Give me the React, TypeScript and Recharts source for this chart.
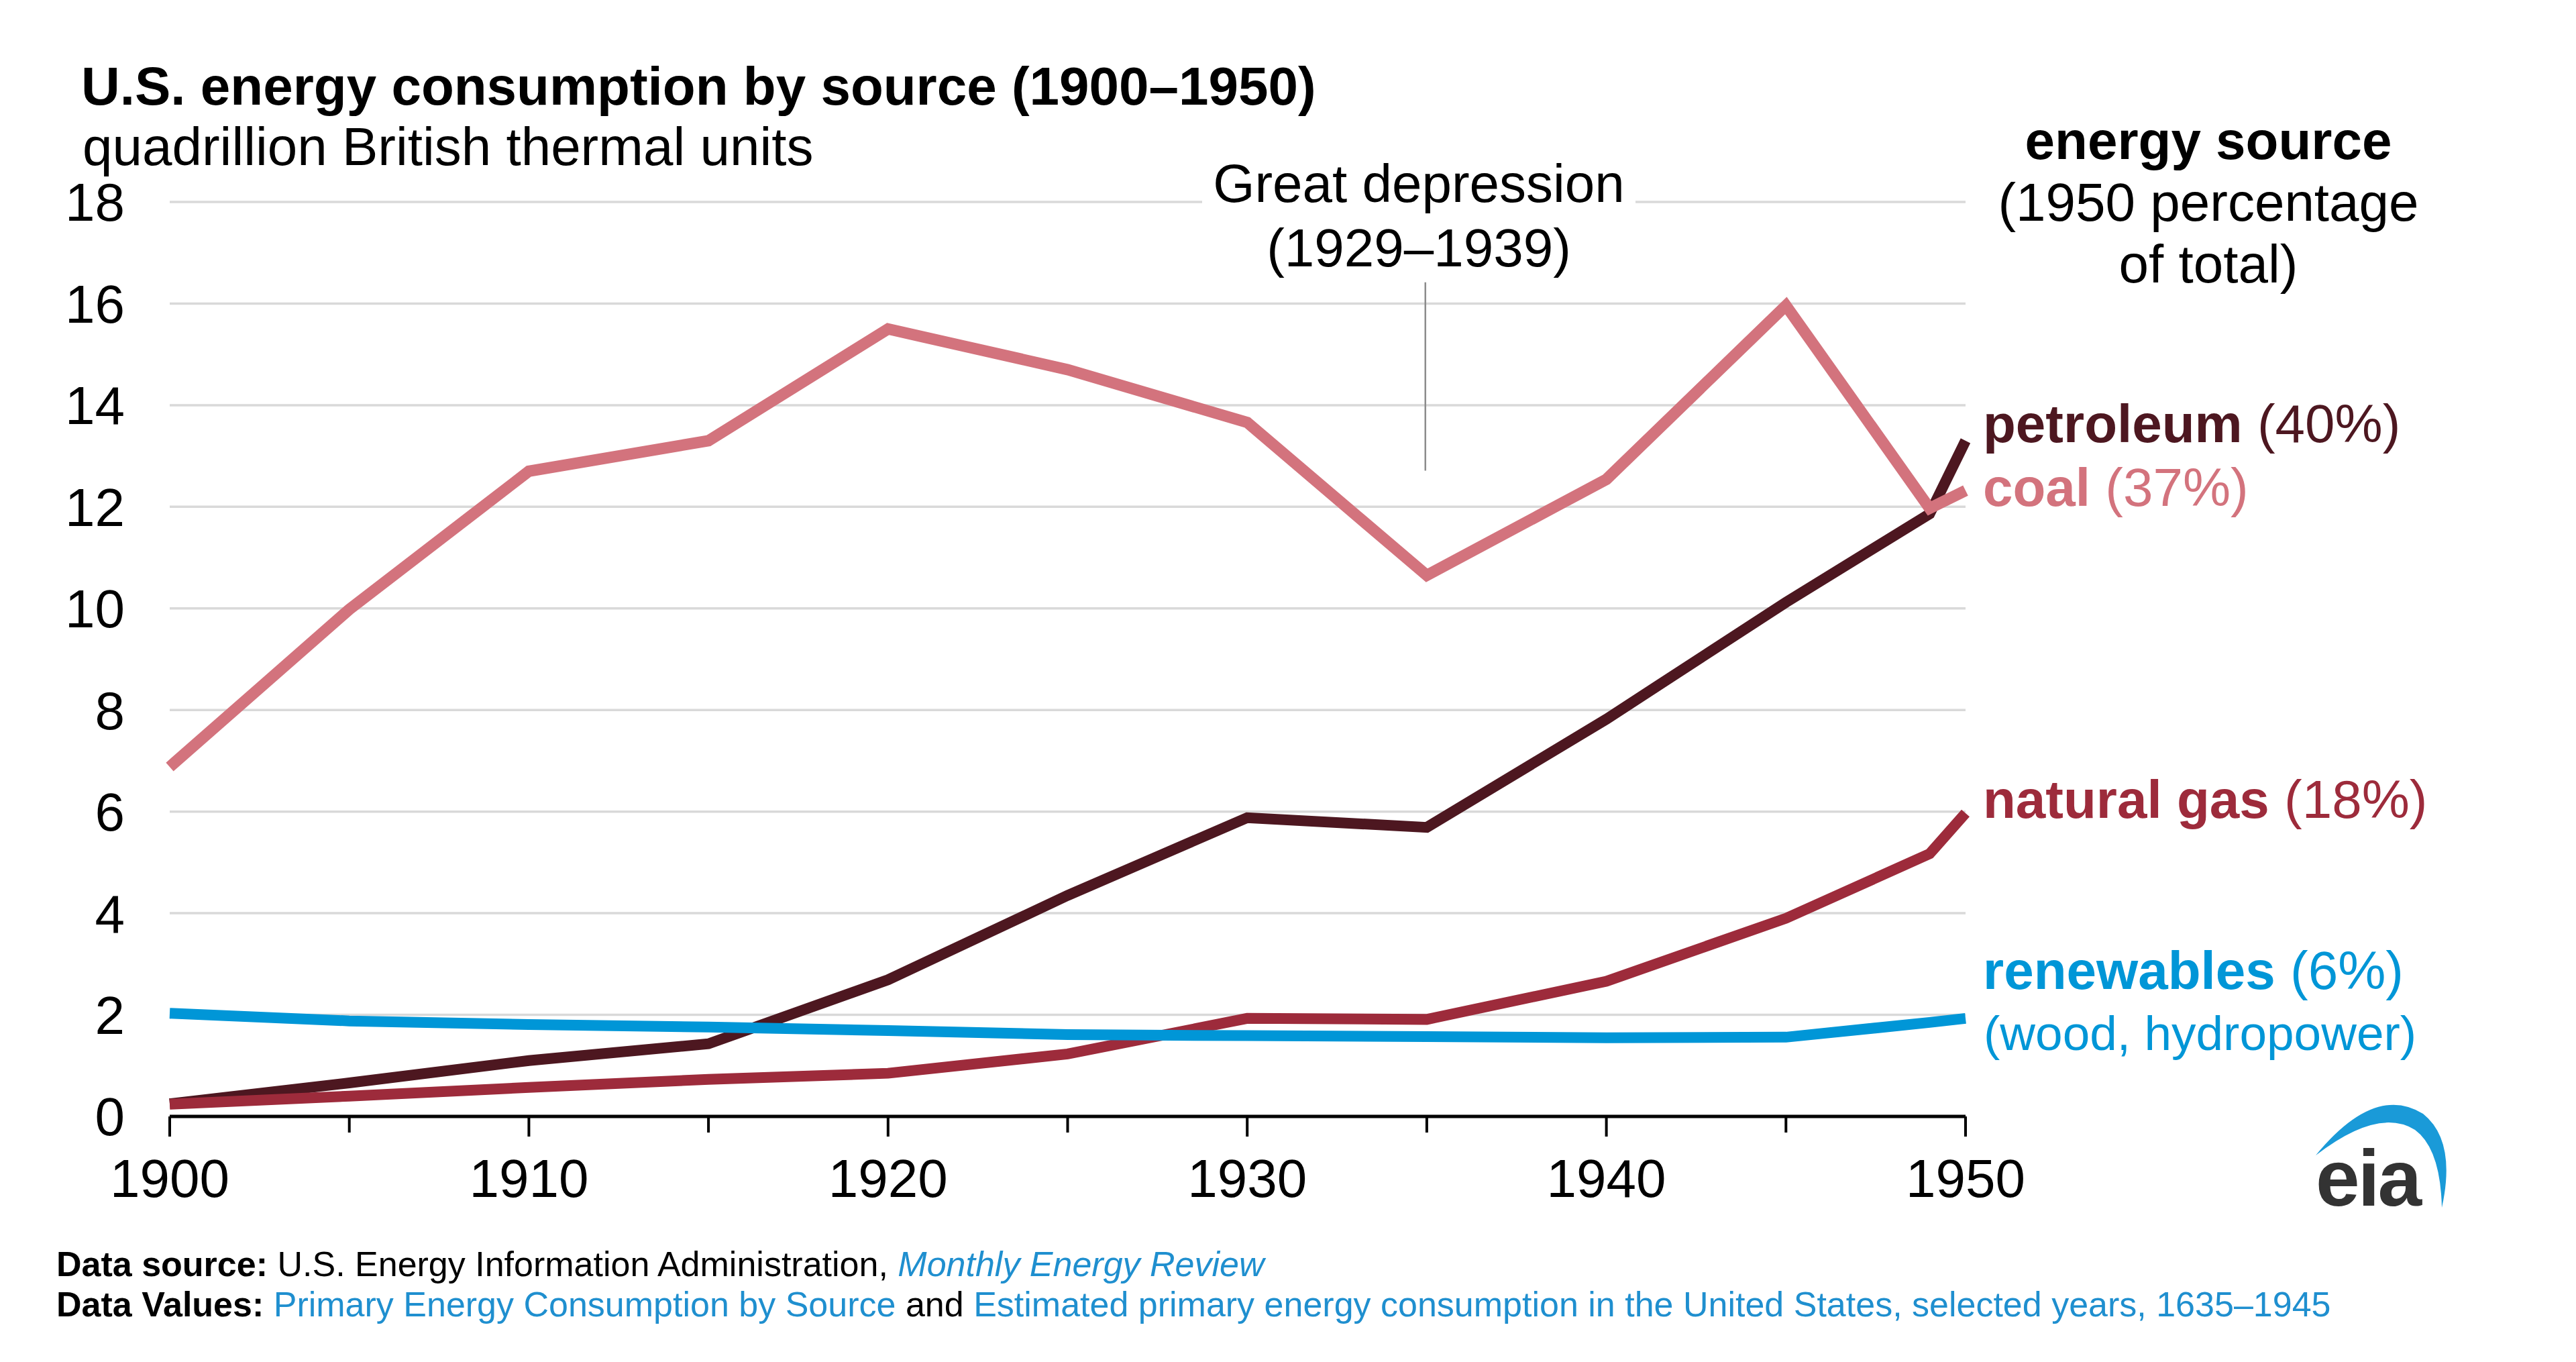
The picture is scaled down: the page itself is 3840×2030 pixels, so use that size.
import React from 'react';
import { LineChart, Line, XAxis, YAxis, CartesianGrid, ReferenceLine } from 'recharts';

// values (quadrillion Btu)
const years = [1900, 1905, 1910, 1915, 1920, 1925, 1930, 1935, 1940, 1945, 1949, 1950];
const coal = [6.88, 9.98, 12.7, 13.3, 15.5, 14.7, 13.66, 10.65, 12.54, 15.96, 11.97, 12.32];
const petroleum = [0.25, 0.66, 1.1, 1.43, 2.69, 4.35, 5.88, 5.69, 7.82, 10.12, 11.86, 13.3];
const naturalGas = [0.24, 0.4, 0.57, 0.73, 0.85, 1.23, 1.93, 1.91, 2.66, 3.9, 5.17, 5.97];
const renewables = [2.03, 1.88, 1.81, 1.76, 1.69, 1.61, 1.59, 1.57, 1.55, 1.56, 1.85, 1.93];

const xTicks = [1900, 1905, 1910, 1915, 1920, 1925, 1930, 1935, 1940, 1945, 1950];
const yTicks = [0, 2, 4, 6, 8, 10, 12, 14, 16, 18];

const FONT = '"Liberation Sans", Arial, Helvetica, sans-serif';

const COLORS = {
  coal: '#d3737d',
  petroleum: '#4d1720',
  naturalGas: '#9d2b3b',
  renewables: '#0096d7',
};

const data = years.map((year, i) => ({
  year,
  coal: coal[i],
  petroleum: petroleum[i],
  naturalGas: naturalGas[i],
  renewables: renewables[i],
}));

const abs = (left: number, top: number, extra: React.CSSProperties = {}): React.CSSProperties => ({
  position: 'absolute',
  left,
  top,
  fontFamily: FONT,
  fontSize: 80,
  lineHeight: 1,
  whiteSpace: 'nowrap',
  color: '#000',
  ...extra,
});

// x ticks: decade marks a bit longer than the 5-year marks
function YearTick(props: any) {
  const { x, y, payload } = props;
  const v = payload.value as number;
  const major = v % 10 === 0;
  return (
    <g>
      <line x1={x} x2={x} y1={y - 63} y2={y - 63 + (major ? 30 : 24)} stroke="#000" strokeWidth={4} />
      {major && (
        <text x={x} y={y} dy="0.71em" textAnchor="middle" fontSize={80} fontFamily={FONT} fill="#000">
          {v}
        </text>
      )}
    </g>
  );
}

function EiaLogo() {
  return (
    <svg
      width={320}
      height={260}
      viewBox="3400 1600 320 260"
      style={{ position: 'absolute', left: 3400, top: 1600 }}
    >
      <path
        d="M3452 1722 Q3540 1615 3612 1660 Q3662 1700 3640 1800 Q3638 1712 3600 1684 Q3545 1650 3452 1722 Z"
        fill="#1a9ad8"
      />
      <text
        x={3452}
        y={1797}
        fontFamily={FONT}
        fontWeight={700}
        fontSize={118}
        fill="#333"
        letterSpacing={-3}
      >
        eia
      </text>
    </svg>
  );
}

export default function App() {
  return (
    <div
      style={{
        position: 'absolute',
        left: 0,
        top: 0,
        width: 3840,
        height: 2030,
        background: '#fff',
        overflow: 'hidden',
      }}
    >
      <LineChart
        width={3840}
        height={2030}
        data={data}
        margin={{ top: 301, right: 910, bottom: 266, left: 153 }}
        style={{ fontFamily: FONT }}
      >
        <CartesianGrid vertical={false} stroke="#d9d9d9" strokeWidth={3.5} />
        <XAxis
          dataKey="year"
          type="number"
          domain={[1900, 1950]}
          ticks={xTicks}
          interval={0}
          height={100}
          axisLine={{ stroke: '#000', strokeWidth: 5 }}
          tickLine={false}
          tickSize={25}
          tickMargin={38}
          tick={<YearTick />}
        />
        <YAxis
          type="number"
          domain={[0, 18]}
          ticks={yTicks}
          interval={0}
          width={100}
          axisLine={false}
          tickLine={false}
          tickSize={0}
          tickMargin={67}
          tick={{ fill: '#000', fontSize: 80, fontFamily: FONT }}
        />
        <ReferenceLine
          segment={[
            { x: 1934.96, y: 16.42 },
            { x: 1934.96, y: 12.71 },
          ]}
          stroke="#8c8c8c"
          strokeWidth={2.5}
        />
        <Line
          dataKey="petroleum"
          stroke={COLORS.petroleum}
          strokeWidth={16}
          dot={false}
          activeDot={false}
          isAnimationActive={false}
        />
        <Line
          dataKey="coal"
          stroke={COLORS.coal}
          strokeWidth={17}
          dot={false}
          activeDot={false}
          isAnimationActive={false}
        />
        <Line
          dataKey="naturalGas"
          stroke={COLORS.naturalGas}
          strokeWidth={16}
          dot={false}
          activeDot={false}
          isAnimationActive={false}
        />
        <Line
          dataKey="renewables"
          stroke={COLORS.renewables}
          strokeWidth={16}
          dot={false}
          activeDot={false}
          isAnimationActive={false}
        />
      </LineChart>

      {/* title block */}
      <div style={abs(121, 89, { fontWeight: 700 })}>U.S. energy consumption by source (1900–1950)</div>
      <div style={abs(123, 179)}>quadrillion British thermal units</div>

      {/* annotation */}
      <div
        style={abs(1792, 226, {
          width: 646,
          textAlign: 'center',
          lineHeight: '96px',
          background: '#fff',
        })}
      >
        Great depression
        <br />
        (1929–1939)
      </div>

      {/* series labels */}
      <div
        style={abs(2892, 164, {
          width: 800,
          textAlign: 'center',
          lineHeight: '92px',
        })}
      >
        <span style={{ fontWeight: 700 }}>energy source</span>
        <br />
        (1950 percentage
        <br />
        of total)
      </div>
      <div style={abs(2956, 592, { color: COLORS.petroleum })}>
        <span style={{ fontWeight: 700 }}>petroleum</span> (40%)
      </div>
      <div style={abs(2956, 687, { color: COLORS.coal })}>
        <span style={{ fontWeight: 700 }}>coal</span> (37%)
      </div>
      <div style={abs(2956, 1152, { color: COLORS.naturalGas })}>
        <span style={{ fontWeight: 700 }}>natural gas</span> (18%)
      </div>
      <div style={abs(2956, 1407, { color: COLORS.renewables })}>
        <span style={{ fontWeight: 700 }}>renewables</span> (6%)
      </div>
      <div style={abs(2957, 1503, { color: COLORS.renewables, fontSize: 73 })}>(wood, hydropower)</div>

      <EiaLogo />

      {/* source notes */}
      <div style={abs(84, 1858, { fontSize: 52 })}>
        <span style={{ fontWeight: 700 }}>Data source:</span> U.S. Energy Information Administration,{' '}
        <span style={{ color: '#1f8fcf', fontStyle: 'italic' }}>Monthly Energy Review</span>
      </div>
      <div style={abs(84, 1918, { fontSize: 52 })}>
        <span style={{ fontWeight: 700 }}>Data Values:</span>{' '}
        <span style={{ color: '#1f8fcf' }}>Primary Energy Consumption by Source</span> and{' '}
        <span style={{ color: '#1f8fcf' }}>
          Estimated primary energy consumption in the United States, selected years, 1635–1945
        </span>
      </div>
    </div>
  );
}
